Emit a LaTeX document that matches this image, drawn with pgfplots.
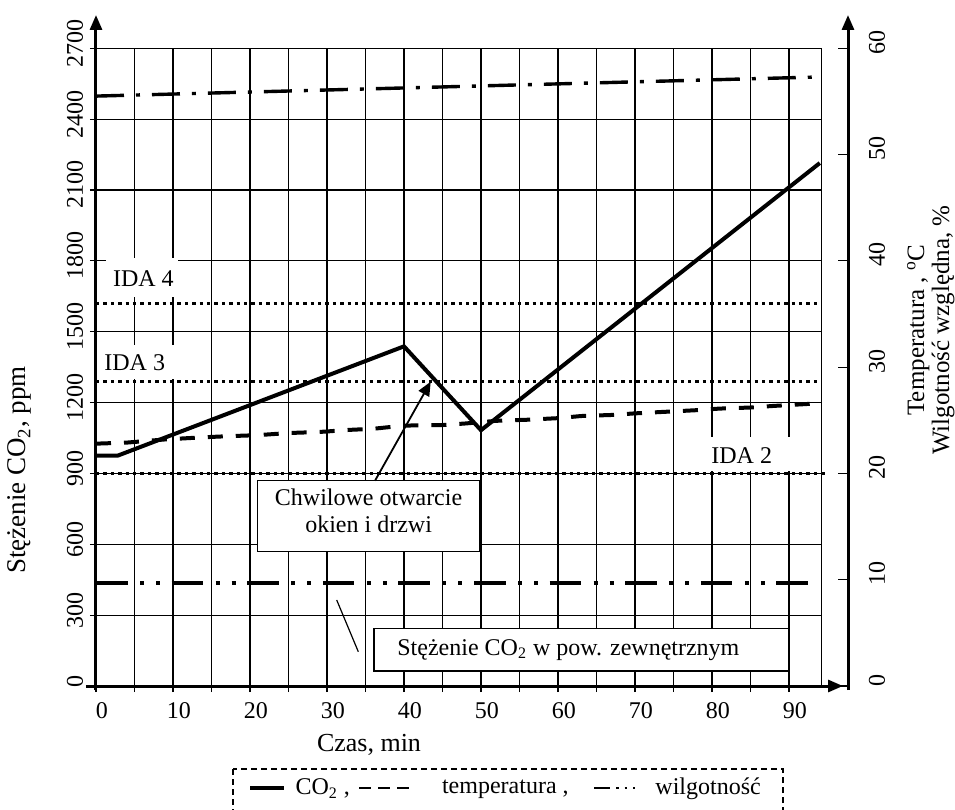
\documentclass[border=0pt]{standalone}
\usepackage{fontspec}
\setmainfont{Liberation Serif}
\usepackage{pgfplots}
\pgfplotsset{compat=1.18}
\usetikzlibrary{arrows.meta}
\newcommand\fA{\fontsize{12}{13.5}\selectfont}
\newcommand\fB{\fontsize{12}{13.5}\selectfont}
\newcommand\fC{\fontsize{13.5}{16}\selectfont}
\newcommand\fD{\fontsize{13}{15}\selectfont}
\newcommand\fE{\fontsize{12.5}{15}\selectfont}
\pgfplotsset{/pgf/number format/assume math mode=true,/pgf/number format/1000 sep={}}
\begin{document}
\begin{tikzpicture}[font=\fB]
% ---------- left axis: CO2 ----------
\begin{axis}[
  x=3.85pt, y=0.1181pt,
  xmin=0, xmax=94.2, ymin=0, ymax=2700,
  clip=false,
  axis line style={draw=none},
  xtick={0,10,...,90},
  minor xtick={5,15,...,85},
  ytick={0,300,...,2700},
  xtick pos=left, ytick pos=left,
  tick align=outside,
  major tick length=3pt, minor tick length=3pt,
  tick style={black, line width=0.6pt},
  grid=both,
  major grid style={black, line width=0.55pt},
  minor grid style={black, line width=0.55pt},
  xticklabel style={font=\fA, yshift=-1.6pt, xshift=3pt},
  yticklabel style={font=\fA, xshift=-7.5pt, yshift=2.5pt, rotate=90, anchor=center},
  legend columns=3,
  legend cell align=left,
  legend style={draw=none, fill=none, font=\fB,
    at={(axis description cs:0.2096,-0.16)}, anchor=west,
    inner sep=0pt, outer sep=0pt, nodes={inner sep=0pt},
    /tikz/column 1/.style={column sep=4.5pt},
    /tikz/column 2/.style={column sep=4pt},
    /tikz/column 3/.style={column sep=15.75pt},
    /tikz/column 4/.style={column sep=12pt},
    /tikz/column 5/.style={column sep=9.5pt}},
]
% CO2
\addplot[line width=2pt, line join=miter, forget plot] coordinates {(0,975) (2.8,975) (40,1438) (50,1083) (94,2214)};
% IDA levels
\addplot[line width=1.5pt, dash pattern=on 1.7pt off 2pt, forget plot] coordinates {(0,1620) (94.2,1620)};
\addplot[line width=1.5pt, dash pattern=on 1.7pt off 2pt, forget plot] coordinates {(0,1290) (94.2,1290)};
\addplot[line width=1.5pt, dash pattern=on 1.7pt off 2pt, forget plot] coordinates {(0,900) (94.8,900)};
% outdoor CO2
\addplot[line width=2pt, dash pattern=on 15.8pt off 6.2pt on 2pt off 6pt on 2pt off 5.8pt, forget plot] coordinates {(0,435) (93.6,435)};
% legend
\addlegendimage{legend image code/.code={\draw[solid,line width=2.3pt] (0pt,0pt) -- (17pt,0pt);}}
\addlegendentry{CO\textsubscript{2} ,}
\addlegendimage{legend image code/.code={\draw[line width=1.3pt, dash pattern=on 6pt off 3.5pt] (0pt,0pt) -- (25pt,0pt);}}
\addlegendentry{temperatura ,}
\addlegendimage{legend image code/.code={\draw[line width=1.4pt, dash pattern=on 8pt off 3pt on 1.3pt off 3pt on 1.3pt off 3pt] (0pt,0pt) -- (20.5pt,0pt);}}
\addlegendentry{wilgotność}
\end{axis}
% ---------- right axis: temperature / humidity ----------
\begin{axis}[
  x=3.85pt, y=5.3145pt,
  xmin=0, xmax=97.66, ymin=0, ymax=60,
  clip=false,
  axis line style={draw=none},
  xtick=\empty,
  ytick={0,10,...,60},
  ytick pos=right, yticklabel pos=right,
  tick align=inside,
  major tick length=5pt,
  tick style={black, line width=0.6pt},
  yticklabel style={font=\fA, xshift=14.5pt, yshift=3pt, rotate=90, anchor=center},
]
% temperature
\addplot[line width=2pt, dash pattern=on 7.5pt off 6.5pt] coordinates {
(0,22.8) (4,22.9) (9,23.2) (14,23.4) (17,23.5) (21,23.6) (25,23.8) (29,23.9) (33,24.1) (36,24.2)
(40,24.5) (45,24.55) (48,24.7) (52,24.95) (56,25.05) (60,25.2) (63,25.4) (67,25.5) (70,25.65)
(74,25.8) (78,25.95) (81,26.1) (85,26.2) (88,26.35) (94,26.6)};
% humidity
\addplot[line width=1.7pt, dash pattern=on 14pt off 6pt on 2pt off 6pt] coordinates {(0,55.5) (94,57.3)};
\end{axis}
% ---------- axis lines ----------
\draw[line width=0.55pt] (362.67pt,0pt) -- (362.67pt,318.87pt);
\draw[line width=1.5pt, -{Triangle[width=6pt,length=7.5pt]}] (0pt,-2pt) -- (0pt,335.5pt);
\draw[line width=1.5pt, -{Triangle[width=6pt,length=7.5pt]}] (-5pt,0pt) -- (373.5pt,0pt);
\draw[line width=1.5pt, -{Triangle[width=6pt,length=7.5pt]}] (376pt,-2pt) -- (376pt,335.5pt);
% ---------- axis titles ----------
\node[rotate=90, anchor=base, font=\fC] at (-35pt,108pt) {Stężenie CO\textsubscript{2}, ppm};
\node[anchor=base, font=\fD] at (136.5pt,-32.85pt) {Czas, min};
\node[rotate=90, anchor=base, font=\fE] at (414pt,178pt) {Temperatura , \textsuperscript{o}C};
\node[rotate=90, anchor=base, font=\fE] at (426.5pt,178pt) {Wilgotność względna, \%};
% ---------- IDA labels ----------
\fill[white] (5pt,214pt) rectangle (41pt,194.5pt);
\node[anchor=base west, inner sep=0pt] at (8.35pt,200pt) {IDA 4};
\fill[white] (2pt,170.5pt) rectangle (41pt,153.5pt);
\node[anchor=base west, inner sep=0pt] at (4pt,157.65pt) {IDA 3};
\fill[white] (303.5pt,124.65pt) rectangle (352pt,107.6pt);
\node[anchor=base west, inner sep=0pt] at (307.5pt,111pt) {IDA 2};
% ---------- annotations ----------
\draw[fill=white, line width=0.6pt] (80.65pt,102.65pt) rectangle (192pt,67.15pt);
\node[align=center, inner sep=0pt, font=\fB] at (136.3pt,87.8pt) {Chwilowe otwarcie\\okien i drzwi};
\draw[line width=0.9pt, -{Triangle[length=7pt,width=6pt]}] (139.5pt,102.65pt) -- (167.35pt,152.15pt);
\draw[fill=white, line width=0.8pt] (139pt,28.85pt) rectangle (346.35pt,7.65pt);
\node[anchor=base west, inner sep=0pt] at (150.5pt,15.5pt) {Stężenie CO\textsubscript{2} w pow. zewnętrznym};
\draw[line width=0.6pt] (120.35pt,43pt) -- (131.15pt,17.15pt);
% ---------- legend frame ----------
\draw[line width=0.6pt, dash pattern=on 3pt off 2pt] (68.5pt,-41.5pt) rectangle (343.5pt,-70pt);
\pgfresetboundingbox
\path[use as bounding box] (-48pt,-62pt) rectangle (429.5pt,343pt);
\end{tikzpicture}
\end{document}
